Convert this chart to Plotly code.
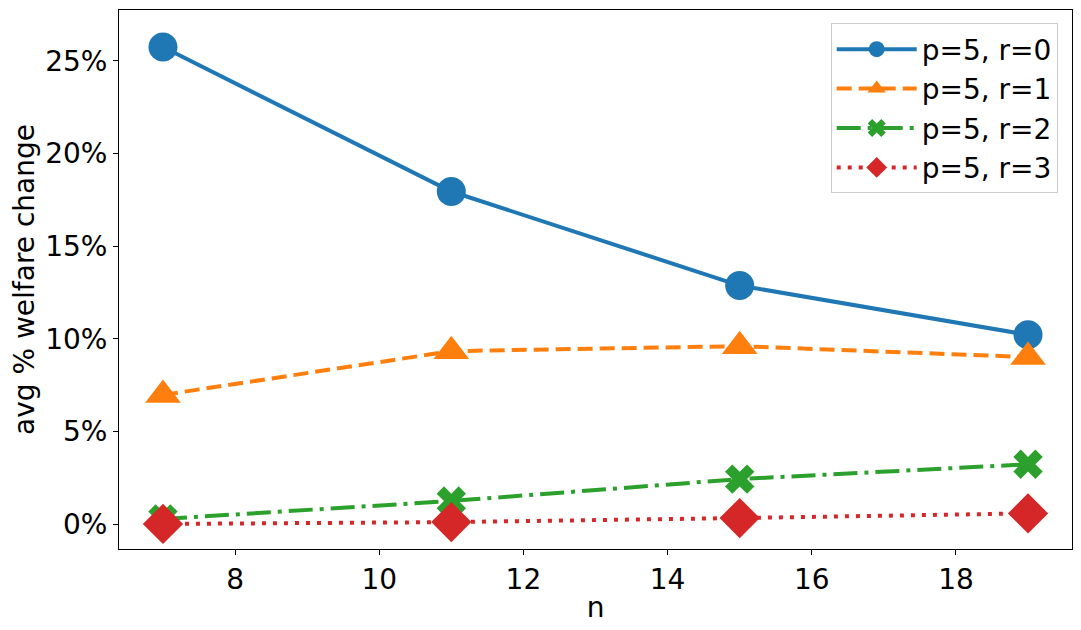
import plotly.graph_objects as go

# welfare change per n, one series per r (p=5)
n = [7, 11, 15, 19]
r0 = [25.74, 17.95, 12.88, 10.22]
r1 = [6.98, 9.34, 9.61, 9.02]
r2 = [0.29, 1.26, 2.44, 3.24]
r3 = [0.02, 0.12, 0.34, 0.59]
labels = ["p=5, r=0", "p=5, r=1", "p=5, r=2", "p=5, r=3"]
x_ticks = [8, 10, 12, 14, 16, 18]
y_ticks = [0, 5, 10, 15, 20, 25]
y_ticktext = ["0%", "5%", "10%", "15%", "20%", "25%"]

colors = ["#1f77b4", "#ff7f0e", "#2ca02c", "#d62728"]
symbols = ["circle", "triangle-up", "x", "diamond"]
sizes = [29, 31, 26, 31]
dashes = ["solid", "15px,7px", "24px,7px,4px,7px", "4px,7px"]

fig = go.Figure()
for ys, lab, c, s, sz, d in zip([r0, r1, r2, r3], labels, colors, symbols, sizes, dashes):
    fig.add_trace(go.Scatter(
        x=n, y=ys, name=lab, mode="lines+markers",
        line=dict(color=c, width=4, dash=d),
        marker=dict(symbol=s, size=sz, color=c, line=dict(width=0)),
    ))

font = dict(family="DejaVu Sans", size=28, color="black")

# the page body adds an 8px margin, so the figure is 8px smaller and shifted
fig.update_layout(
    width=1073, height=622,
    margin=dict(l=110.5, r=9.3, t=2.3, b=81, autoexpand=False),
    plot_bgcolor="white", paper_bgcolor="white",
    font=font,
    legend=dict(x=0.985, y=0.975, xanchor="right", yanchor="top",
                bgcolor="rgba(255,255,255,0.8)", bordercolor="#cccccc",
                borderwidth=1, font=font, itemwidth=80, tracegroupgap=0),
)
fig.update_xaxes(range=[6.39, 19.61], tickmode="array", tickvals=x_ticks,
                 title_text="n", title_standoff=2)
fig.update_yaxes(range=[-1.33, 27.74], tickmode="array", tickvals=y_ticks,
                 ticktext=y_ticktext,
                 title_text="avg % welfare change", title_standoff=4)
fig.update_xaxes(showgrid=False, zeroline=False, showline=True, mirror=True,
                 linecolor="black", linewidth=1, ticks="outside", ticklen=5,
                 tickcolor="black", tickfont=font, title_font=font,
                 automargin=False)
fig.update_yaxes(showgrid=False, zeroline=False, showline=True, mirror=True,
                 linecolor="black", linewidth=1, ticks="outside", ticklen=5,
                 tickcolor="black", tickfont=font, title_font=font,
                 automargin=False)

fig.write_html("out.html")
